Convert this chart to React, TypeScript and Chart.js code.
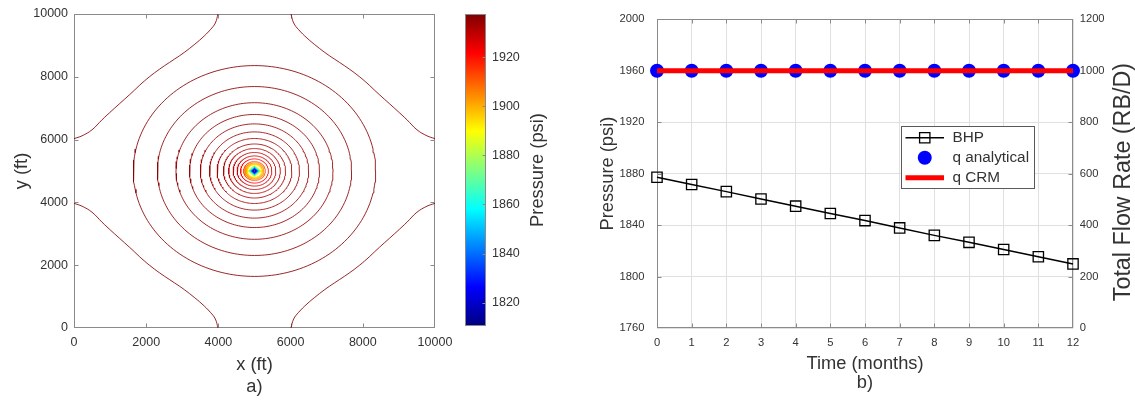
import React, { useEffect, useRef } from 'react';
import { Chart, registerables } from 'chart.js';

Chart.register(...registerables);

const FONT_FAMILY = '"Liberation Sans", Arial, Helvetica, sans-serif';
const AXIS_COLOR = '#8a8a8a';
const TEXT_COLOR = '#333333';
const GRID_COLOR = '#e0e0e0';

// ---------- a) pressure contours around the producer ----------
const domainTicks = [0, 2000, 4000, 6000, 8000, 10000];
const domainMax = 10000;
const wellX = 5000;
const wellY = 5000;

// outer contour hugging the top-left corner (the other three are its mirror images)
const cornerLevel = 1937;
const cornerX = [0, 222, 499, 776, 1053, 1330, 1607, 1884, 2161, 2438, 2715, 2992, 3269, 3546, 3777, 3915, 3990];
const cornerY = [6030, 6120, 6312, 6630, 6927, 7214, 7501, 7800, 8065, 8298, 8511, 8725, 8967, 9235, 9500, 9713, 10000];

// near-circular isobars (radius in ft, level in psi)
const ringRadii = [3357, 2690, 2175, 1800, 1500, 1245, 1035, 860, 715, 590, 480, 385, 300, 262, 235, 214, 197];
const ringLevels = [1936.5, 1936, 1935.5, 1935, 1934.5, 1934, 1933.5, 1932.5, 1931.5, 1930, 1928, 1922, 1912, 1904, 1899, 1895, 1892];

// isobars inside the well block (half diagonal in ft, level in psi)
const diamondHalfSizes = [20, 35, 50, 62, 74, 86, 98, 110, 120, 130, 142, 155, 168, 182];
const diamondLevels = [1812, 1818, 1824, 1830, 1836, 1842, 1848, 1854, 1860, 1866, 1872, 1878, 1884, 1890];

const colorbarMin = 1810.5;
const colorbarMax = 1937.6;
const colorbarTicks = [1820, 1840, 1860, 1880, 1900, 1920];

// ---------- b) well history ----------
const months = [0, 1, 2, 3, 4, 5, 6, 7, 8, 9, 10, 11, 12];
const bhp = [1877.2, 1871.5, 1866, 1860.3, 1854.7, 1849, 1843.5, 1837.8, 1832, 1826.6, 1821, 1815.4, 1809.8];
const qAnalytical = [1000, 1000, 1000, 1000, 1000, 1000, 1000, 1000, 1000, 1000, 1000, 1000, 1000];
const qCrm = [1000, 1000, 1000, 1000, 1000, 1000, 1000, 1000, 1000, 1000, 1000, 1000, 1000];
const pressureTicks = [1760, 1800, 1840, 1880, 1920, 1960, 2000];
const rateTicks = [0, 200, 400, 600, 800, 1000, 1200];

// MATLAB-style jet colormap
function jet(t: number): string {
  const c = (v: number) => Math.round(255 * Math.min(1, Math.max(0, v)));
  const r = 1.5 - Math.abs(4 * t - 3);
  const g = 1.5 - Math.abs(4 * t - 2);
  const b = 1.5 - Math.abs(4 * t - 1);
  return `rgb(${c(r)},${c(g)},${c(b)})`;
}
const levelColor = (p: number) => jet((p - colorbarMin) / (colorbarMax - colorbarMin));

function circlePoints(r: number) {
  const pts: { x: number; y: number }[] = [];
  const n = 180;
  for (let i = 0; i <= n; i++) {
    const a = (i / n) * Math.PI * 2;
    pts.push({ x: wellX + r * Math.cos(a), y: wellY + r * Math.sin(a) });
  }
  return pts;
}

function diamondPoints(d: number) {
  return [
    { x: wellX + d, y: wellY },
    { x: wellX, y: wellY + d },
    { x: wellX - d, y: wellY },
    { x: wellX, y: wellY - d },
    { x: wellX + d, y: wellY },
  ];
}

const setTicks = (values: number[]) => (s: any) => {
  s.ticks = values.map((v) => ({ value: v }));
};
const plainNumber = (v: any) => String(v);

// box around the plot area with inward tick marks
function drawFrame(chart: any, opts: any) {
  const { ctx, chartArea: a } = chart;
  const L = Math.round(a.left) + 0.5;
  const R = Math.round(a.right) - 0.5;
  const T = Math.round(a.top) + 0.5;
  const B = Math.round(a.bottom) - 0.5;
  const len = opts.tickLength ?? 4;
  ctx.save();
  ctx.strokeStyle = opts.color ?? AXIS_COLOR;
  ctx.lineWidth = 1;
  ctx.beginPath();
  Object.values(chart.scales).forEach((s: any) => {
    if (!s.options.display) return;
    s.ticks.forEach((t: any) => {
      const p = Math.round(s.getPixelForValue(t.value)) + 0.5;
      if (s.isHorizontal()) {
        if (p <= L + 1 || p >= R - 1) return;
        ctx.moveTo(p, B);
        ctx.lineTo(p, B - len);
        ctx.moveTo(p, T);
        ctx.lineTo(p, T + len);
      } else {
        if (p <= T + 1 || p >= B - 1) return;
        const left = s.position === 'left';
        if (left || opts.mirrorY) {
          ctx.moveTo(L, p);
          ctx.lineTo(L + len, p);
        }
        if (!left || opts.mirrorY) {
          ctx.moveTo(R, p);
          ctx.lineTo(R - len, p);
        }
      }
    });
  });
  ctx.stroke();
  ctx.strokeRect(L, T, R - L, B - T);
  ctx.restore();
}

const framePlugin = {
  id: 'frame',
  beforeDatasetsDraw(chart: any, _args: any, opts: any) {
    if (!opts.onTop) drawFrame(chart, opts);
  },
  afterDatasetsDraw(chart: any, _args: any, opts: any) {
    if (opts.onTop) drawFrame(chart, opts);
  },
};

// vertical title reading bottom-to-top, for axes on the right side
const sideTitlePlugin = {
  id: 'sideTitle',
  afterDraw(chart: any, _args: any, opts: any) {
    if (!opts.text) return;
    const { ctx, chartArea: a } = chart;
    ctx.save();
    ctx.translate(opts.x, (a.top + a.bottom) / 2 + (opts.dy ?? 0));
    ctx.rotate(-Math.PI / 2);
    ctx.font = `${opts.size}px ${FONT_FAMILY}`;
    ctx.fillStyle = TEXT_COLOR;
    ctx.textAlign = 'center';
    ctx.textBaseline = 'middle';
    ctx.fillText(opts.text, 0, 0);
    ctx.restore();
  },
};

// boxed legend placed inside the plot area
const boxLegendPlugin = {
  id: 'boxLegend',
  afterDatasetsDraw(chart: any, _args: any, opts: any) {
    if (!opts.display) return;
    const { ctx, chartArea: a } = chart;
    const x0 = Math.round(a.left + opts.offsetX) + 0.5;
    const y0 = Math.round(a.top + opts.offsetY) + 0.5;
    ctx.save();
    ctx.fillStyle = '#ffffff';
    ctx.fillRect(x0, y0, opts.width, opts.height);
    ctx.strokeStyle = opts.borderColor;
    ctx.lineWidth = 1;
    ctx.strokeRect(x0, y0, opts.width, opts.height);
    ctx.font = `${opts.fontSize}px ${FONT_FAMILY}`;
    ctx.textBaseline = 'middle';
    ctx.textAlign = 'left';
    chart.data.datasets.forEach((ds: any, i: number) => {
      const cy = y0 + opts.firstRow + i * opts.rowGap;
      const sx0 = x0 + opts.sampleStart;
      const sx1 = x0 + opts.sampleEnd;
      const mx = (sx0 + sx1) / 2;
      if (ds.showLine) {
        ctx.strokeStyle = ds.borderColor;
        ctx.lineWidth = ds.borderWidth;
        ctx.beginPath();
        ctx.moveTo(sx0, cy);
        ctx.lineTo(sx1, cy);
        ctx.stroke();
      }
      if (ds.pointRadius > 0) {
        ctx.lineWidth = ds.pointBorderWidth ?? 1;
        ctx.strokeStyle = ds.pointBorderColor;
        ctx.fillStyle = ds.pointBackgroundColor;
        ctx.beginPath();
        if (ds.pointStyle === 'rect') {
          const h = ds.pointRadius * Math.SQRT1_2;
          ctx.rect(mx - h, cy - h, 2 * h, 2 * h);
        } else {
          ctx.arc(mx, cy, ds.pointRadius, 0, Math.PI * 2);
        }
        ctx.fill();
        if (ds.pointBorderWidth > 0) ctx.stroke();
      }
      ctx.fillStyle = TEXT_COLOR;
      ctx.fillText(ds.label, x0 + opts.textStart, cy);
    });
    ctx.restore();
  },
};

function makeContourConfig(): any {
  const datasets: any[] = [];
  const base = { showLine: true, pointRadius: 0, borderWidth: 0.85, fill: false };
  const mirrors: [boolean, boolean][] = [
    [false, false],
    [true, false],
    [false, true],
    [true, true],
  ];
  mirrors.forEach(([fx, fy]) => {
    datasets.push({
      ...base,
      tension: 0.4,
      borderColor: levelColor(cornerLevel),
      data: cornerX.map((x, i) => ({
        x: fx ? domainMax - x : x,
        y: fy ? domainMax - cornerY[i] : cornerY[i],
      })),
    });
  });
  ringRadii.forEach((r, i) => {
    datasets.push({ ...base, tension: 0, borderColor: levelColor(ringLevels[i]), data: circlePoints(r) });
  });
  diamondHalfSizes.forEach((d, i) => {
    datasets.push({ ...base, borderWidth: 1, tension: 0, borderColor: levelColor(diamondLevels[i]), data: diamondPoints(d) });
  });

  const tickFont = { size: 12.5, family: FONT_FAMILY };
  return {
    type: 'scatter',
    data: { datasets },
    plugins: [framePlugin],
    options: {
      responsive: false,
      animation: false,
      devicePixelRatio: 1,
      events: [],
      layout: { padding: { top: 14, left: 0, right: 25, bottom: 0 } },
      plugins: {
        legend: { display: false },
        tooltip: { enabled: false },
        frame: { mirrorY: true, tickLength: 4 },
      },
      scales: {
        x: {
          type: 'linear',
          min: 0,
          max: domainMax,
          afterBuildTicks: setTicks(domainTicks),
          afterFit: (s: any) => {
            s.height = 72;
          },
          grid: { display: false, drawTicks: false },
          border: { display: false },
          ticks: { color: TEXT_COLOR, font: tickFont, padding: 7.2, maxRotation: 0, autoSkip: false, callback: plainNumber },
          title: {
            display: true,
            text: ['x (ft)', 'a)'],
            color: TEXT_COLOR,
            font: { size: 18.3, family: FONT_FAMILY, lineHeight: '22.5px' },
            padding: { top: 0, bottom: 1.3 },
          },
        },
        y: {
          type: 'linear',
          min: 0,
          max: domainMax,
          afterBuildTicks: setTicks(domainTicks),
          afterFit: (s: any) => {
            s.width = 74;
          },
          grid: { display: false, drawTicks: false },
          border: { display: false },
          ticks: { color: TEXT_COLOR, font: tickFont, padding: 6, autoSkip: false, callback: plainNumber },
          title: {
            display: true,
            text: 'y (ft)',
            color: TEXT_COLOR,
            font: { size: 18.3, family: FONT_FAMILY, lineHeight: 1.2 },
            padding: { top: 10.9, bottom: 0 },
          },
        },
      },
    },
  };
}

function makeColorbarConfig(): any {
  return {
    type: 'bar',
    data: {
      labels: ['Pressure'],
      datasets: [
        {
          data: [[colorbarMin, colorbarMax]],
          borderWidth: 0,
          barPercentage: 1,
          categoryPercentage: 1,
          backgroundColor: (ctx: any) => {
            const chart = ctx.chart;
            if (!chart.chartArea) return 'transparent';
            const y = chart.scales.y;
            const g = chart.ctx.createLinearGradient(0, y.getPixelForValue(colorbarMin), 0, y.getPixelForValue(colorbarMax));
            const n = 64;
            for (let i = 0; i <= n; i++) g.addColorStop(i / n, jet(i / n));
            return g;
          },
        },
      ],
    },
    plugins: [framePlugin, sideTitlePlugin],
    options: {
      responsive: false,
      animation: false,
      devicePixelRatio: 1,
      events: [],
      layout: { padding: { top: 14, left: 10, right: 0, bottom: 74 } },
      plugins: {
        legend: { display: false },
        tooltip: { enabled: false },
        frame: { onTop: true, tickLength: 3 },
        sideTitle: { text: 'Pressure (psi)', x: 83, size: 18.3 },
      },
      scales: {
        x: { display: false },
        y: {
          position: 'right',
          min: colorbarMin,
          max: colorbarMax,
          afterBuildTicks: setTicks(colorbarTicks),
          afterFit: (s: any) => {
            s.width = 79;
          },
          grid: { display: false, drawTicks: false },
          border: { display: false },
          ticks: { color: TEXT_COLOR, font: { size: 12.5, family: FONT_FAMILY }, padding: 6, callback: plainNumber },
        },
      },
    },
  };
}

function makeHistoryConfig(): any {
  const tickFont = { size: 11.2, family: FONT_FAMILY };
  return {
    type: 'scatter',
    data: {
      datasets: [
        {
          label: 'BHP',
          order: 0,
          yAxisID: 'y',
          showLine: true,
          borderColor: '#000000',
          borderWidth: 1.5,
          pointStyle: 'rect',
          pointRadius: 7.3,
          pointBorderWidth: 1.3,
          pointBorderColor: '#000000',
          pointBackgroundColor: 'rgba(0,0,0,0)',
          clip: false,
          data: months.map((m, i) => ({ x: m, y: bhp[i] })),
        },
        {
          label: 'q analytical',
          order: 2,
          yAxisID: 'y2',
          showLine: false,
          borderColor: '#0000ff',
          borderWidth: 0,
          pointStyle: 'circle',
          pointRadius: 7,
          pointBorderWidth: 0,
          pointBorderColor: '#0000ff',
          pointBackgroundColor: '#0000ff',
          clip: false,
          data: months.map((m, i) => ({ x: m, y: qAnalytical[i] })),
        },
        {
          label: 'q CRM',
          order: 1,
          yAxisID: 'y2',
          showLine: true,
          borderColor: '#ff0000',
          borderWidth: 5,
          pointRadius: 0,
          data: months.map((m, i) => ({ x: m, y: qCrm[i] })),
        },
      ],
    },
    plugins: [framePlugin, sideTitlePlugin, boxLegendPlugin],
    options: {
      responsive: false,
      animation: false,
      devicePixelRatio: 1,
      events: [],
      layout: { padding: { top: 15, left: 0, right: 0, bottom: 0 } },
      plugins: {
        legend: { display: false },
        tooltip: { enabled: false },
        frame: { tickLength: 4 },
        sideTitle: { text: 'Total Flow Rate (RB/D)', x: 539, dy: 8.5, size: 23.3 },
        boxLegend: {
          display: true,
          offsetX: 244,
          offsetY: 107,
          width: 133,
          height: 62,
          borderColor: '#5a5a5a',
          fontSize: 15.3,
          firstRow: 11.2,
          rowGap: 20,
          sampleStart: 4,
          sampleEnd: 42.5,
          textStart: 51,
        },
      },
      scales: {
        x: {
          type: 'linear',
          min: 0,
          max: 12,
          afterBuildTicks: setTicks(months),
          afterFit: (s: any) => {
            s.height = 72;
          },
          grid: { color: GRID_COLOR, drawTicks: false },
          border: { display: false },
          ticks: { color: TEXT_COLOR, font: tickFont, padding: 8, maxRotation: 0, autoSkip: false, callback: plainNumber },
          title: {
            display: true,
            text: ['Time (months)', 'b)'],
            color: TEXT_COLOR,
            font: { size: 18.3, family: FONT_FAMILY, lineHeight: '18.4px' },
            padding: { top: 0, bottom: 8.1 },
          },
        },
        y: {
          type: 'linear',
          position: 'left',
          min: 1760,
          max: 2000,
          afterBuildTicks: setTicks(pressureTicks),
          afterFit: (s: any) => {
            s.width = 72;
          },
          grid: { color: GRID_COLOR, drawTicks: false },
          border: { display: false },
          ticks: { color: TEXT_COLOR, font: tickFont, padding: 12.5, autoSkip: false, callback: plainNumber },
          title: {
            display: true,
            text: 'Pressure (psi)',
            color: TEXT_COLOR,
            font: { size: 18.3, family: FONT_FAMILY, lineHeight: 1.2 },
            padding: { top: 11.8, bottom: 0 },
          },
        },
        y2: {
          type: 'linear',
          position: 'right',
          min: 0,
          max: 1200,
          afterBuildTicks: setTicks(rateTicks),
          afterFit: (s: any) => {
            s.width = 62;
          },
          grid: { drawOnChartArea: false, drawTicks: false },
          border: { display: false },
          ticks: { color: TEXT_COLOR, font: tickFont, padding: 6.7, autoSkip: false, callback: plainNumber },
        },
      },
    },
  };
}

function ChartCanvas(props: { make: () => any; left: number; top: number; width: number; height: number }) {
  const ref = useRef<HTMLCanvasElement>(null);
  useEffect(() => {
    const chart = new Chart(ref.current as HTMLCanvasElement, props.make());
    return () => chart.destroy();
  }, []);
  return (
    <canvas
      ref={ref}
      width={props.width}
      height={props.height}
      style={{ position: 'absolute', left: props.left, top: props.top, width: props.width, height: props.height }}
    />
  );
}

export default function App() {
  Chart.defaults.font.family = FONT_FAMILY;
  return (
    <div style={{ position: 'absolute', left: 0, top: 0, width: 1135, height: 400, background: '#ffffff', overflow: 'hidden' }}>
      <ChartCanvas make={makeContourConfig} left={0} top={0} width={460} height={400} />
      <ChartCanvas make={makeColorbarConfig} left={455} top={0} width={110} height={400} />
      <ChartCanvas make={makeHistoryConfig} left={585} top={0} width={550} height={400} />
    </div>
  );
}
